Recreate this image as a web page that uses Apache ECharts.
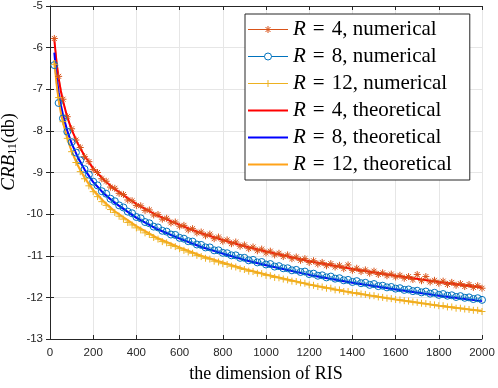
<!DOCTYPE html>
<html>
<head>
<meta charset="utf-8">
<script src="https://cdn.jsdelivr.net/npm/echarts@6/dist/echarts.min.js"></script>
<style>
  html, body { margin: 0; padding: 0; background: #fff; }
  #chart { width: 498px; height: 388px; }
</style>
</head>
<body>
<div id="chart"></div>
<script>
// dimension of RIS for the simulated points
var risN = [20,40,60,80,100,120,140,160,180,200,220,240,260,280,300,320,340,360,380,400,
  420,440,460,480,500,520,540,560,580,600,620,640,660,680,700,720,740,760,780,800,
  820,840,860,880,900,920,940,960,980,1000,1020,1040,1060,1080,1100,1120,1140,1160,1180,1200,
  1220,1240,1260,1280,1300,1320,1340,1360,1380,1400,1420,1440,1460,1480,1500,1520,1540,1560,1580,1600,
  1620,1640,1660,1680,1700,1720,1740,1760,1780,1800,1820,1840,1860,1880,1900,1920,1940,1960,1980,2000];

var numR4 = [-5.78,-6.69,-7.24,-7.66,-7.95,-8.22,-8.40,-8.62,-8.74,-8.93,
  -9.00,-9.15,-9.21,-9.35,-9.38,-9.50,-9.53,-9.66,-9.68,-9.79,
  -9.80,-9.91,-9.90,-10.02,-10.01,-10.12,-10.10,-10.21,-10.19,-10.29,
  -10.27,-10.38,-10.35,-10.45,-10.43,-10.52,-10.48,-10.59,-10.55,-10.65,
  -10.62,-10.71,-10.67,-10.77,-10.74,-10.83,-10.79,-10.88,-10.84,-10.93,
  -10.89,-10.98,-10.94,-11.02,-10.98,-11.07,-11.03,-11.11,-11.07,-11.16,
  -11.12,-11.20,-11.16,-11.24,-11.19,-11.27,-11.23,-11.31,-11.22,-11.35,
  -11.30,-11.38,-11.34,-11.42,-11.37,-11.45,-11.41,-11.48,-11.44,-11.51,
  -11.47,-11.54,-11.50,-11.57,-11.45,-11.60,-11.50,-11.63,-11.59,-11.66,
  -11.61,-11.69,-11.64,-11.71,-11.67,-11.74,-11.69,-11.76,-11.72,-11.78];

var numR8 = [-6.42,-7.33,-7.70,-8.02,-8.27,-8.52,-8.71,-8.92,-9.05,-9.22,
  -9.31,-9.45,-9.51,-9.63,-9.69,-9.79,-9.84,-9.94,-9.98,-10.07,
  -10.10,-10.19,-10.22,-10.30,-10.32,-10.40,-10.42,-10.49,-10.50,-10.57,
  -10.59,-10.65,-10.66,-10.73,-10.74,-10.80,-10.80,-10.87,-10.87,-10.93,
  -10.94,-10.99,-10.99,-11.05,-11.05,-11.11,-11.10,-11.16,-11.15,-11.21,
  -11.20,-11.26,-11.25,-11.30,-11.30,-11.35,-11.34,-11.39,-11.38,-11.44,
  -11.43,-11.48,-11.47,-11.52,-11.50,-11.55,-11.54,-11.59,-11.58,-11.63,
  -11.61,-11.66,-11.65,-11.70,-11.68,-11.73,-11.72,-11.76,-11.75,-11.79,
  -11.78,-11.82,-11.81,-11.85,-11.84,-11.88,-11.86,-11.91,-11.89,-11.94,
  -11.92,-11.96,-11.95,-11.99,-11.97,-12.01,-12.00,-12.04,-12.02,-12.06];

var numR12 = [-6.40,-7.20,-7.78,-8.18,-8.50,-8.76,-8.98,-9.15,-9.32,-9.46,
  -9.58,-9.70,-9.79,-9.89,-9.96,-10.05,-10.12,-10.20,-10.26,-10.33,
  -10.38,-10.45,-10.49,-10.56,-10.60,-10.66,-10.69,-10.75,-10.78,-10.83,
  -10.87,-10.91,-10.94,-10.99,-11.02,-11.06,-11.08,-11.13,-11.15,-11.19,
  -11.21,-11.25,-11.27,-11.31,-11.33,-11.37,-11.38,-11.42,-11.43,-11.47,
  -11.48,-11.52,-11.53,-11.56,-11.58,-11.61,-11.62,-11.65,-11.66,-11.70,
  -11.71,-11.74,-11.75,-11.78,-11.78,-11.82,-11.82,-11.86,-11.86,-11.89,
  -11.89,-11.92,-11.93,-11.96,-11.96,-11.99,-12.00,-12.02,-12.03,-12.05,
  -12.06,-12.08,-12.09,-12.11,-12.12,-12.14,-12.15,-12.17,-12.18,-12.20,
  -12.20,-12.23,-12.23,-12.26,-12.26,-12.28,-12.29,-12.31,-12.31,-12.34];

// theoretical curves
var thN = [20,30,40,50,60,80,100,130,160,200,250,300,400,500,600,700,800,900,1000,1200,1400,1600,1800,2000];
var thR4 = [-5.81,-6.35,-6.74,-7.04,-7.28,-7.67,-7.97,-8.32,-8.60,-8.90,-9.18,-9.40,-9.76,-10.04,-10.26,-10.46,-10.62,-10.77,-10.90,-11.13,-11.32,-11.48,-11.63,-11.76];
var thR8 = [-6.12,-6.68,-7.07,-7.37,-7.61,-8.00,-8.30,-8.65,-8.93,-9.23,-9.51,-9.73,-10.09,-10.37,-10.59,-10.79,-10.95,-11.10,-11.23,-11.46,-11.65,-11.81,-11.96,-12.09];
var thR12 = [-6.30,-6.86,-7.26,-7.56,-7.80,-8.19,-8.49,-8.84,-9.12,-9.42,-9.70,-9.93,-10.29,-10.58,-10.80,-11.00,-11.16,-11.32,-11.45,-11.69,-11.89,-12.05,-12.20,-12.33];

var seriesNames = ['R = 4, numerical', 'R = 8, numerical', 'R = 12, numerical',
  'R = 4, theoretical', 'R = 8, theoretical', 'R = 12, theoretical'];

var colors = ['#D95319', '#0072BD', '#EDB120', '#FF0000', '#0000FF', '#FFA31A'];

function zip(xs, ys) {
  return xs.map(function (x, i) { return [x, ys[i]]; });
}

var axisColor = '#262626';
var serif = 'Liberation Serif';

var starPath = 'path://M0,-10L0,10M-10,0L10,0M-7.07,-7.07L7.07,7.07M-7.07,7.07L7.07,-7.07';
var plusPath = 'path://M0,-10L0,10M-10,0L10,0';

// legend icons: a 40x8 box, line across with the marker in the middle
var legendIcons = [
  'path://M-20,0L20,0M0,-3.5L0,3.5M-3.5,0L3.5,0M-2.5,-2.5L2.5,2.5M-2.5,2.5L2.5,-2.5M-20,-4L-20,-4M20,4L20,4',
  'path://M-20,0L-3.5,0M3.5,0L20,0M3.5,0A3.5,3.5 0 1 1 -3.5,0A3.5,3.5 0 1 1 3.5,0M-20,-4L-20,-4M20,4L20,4',
  'path://M-20,0L20,0M0,-3.5L0,3.5M-20,-4L-20,-4M20,4L20,4',
  'path://M-20,0L20,0M-20,-4L-20,-4M20,4L20,4',
  'path://M-20,0L20,0M-20,-4L-20,-4M20,4L20,4',
  'path://M-20,0L20,0M-20,-4L-20,-4M20,4L20,4'
];

function numSeries(name, data, color, symbol, size) {
  return {
    name: name,
    type: 'line',
    data: zip(risN, data),
    symbol: symbol,
    symbolSize: size,
    showSymbol: true,
    showAllSymbol: true,
    lineStyle: { color: color, width: 0.6 },
    itemStyle: { color: 'rgba(0,0,0,0)', borderColor: color, borderWidth: 1 },
    emphasis: { disabled: true }
  };
}

function thSeries(name, data, color) {
  return {
    name: name,
    type: 'line',
    data: zip(thN, data),
    symbol: 'none',
    showSymbol: false,
    lineStyle: { color: color, width: 2 },
    itemStyle: { color: color },
    emphasis: { disabled: true }
  };
}

var legendData = seriesNames.map(function (name, i) {
  return {
    name: name,
    icon: legendIcons[i],
    itemStyle: { color: 'rgba(0,0,0,0)', borderColor: colors[i], borderWidth: i < 3 ? 1 : 2 }
  };
});

var chart = echarts.init(document.getElementById('chart'));
chart.setOption({
  animation: false,
  backgroundColor: '#fff',
  grid: { left: 50, right: 16, top: 4, bottom: 43 },
  xAxis: [{
    type: 'value', min: 0, max: 2000, interval: 200,
    name: 'the dimension of RIS', nameLocation: 'middle', nameGap: 26,
    nameTextStyle: { fontFamily: serif, fontSize: 18, color: '#000' },
    axisLine: { lineStyle: { color: axisColor, width: 1 } },
    axisTick: { inside: true, length: 4, lineStyle: { color: axisColor } },
    axisLabel: {
      margin: 8, fontFamily: 'Liberation Sans', fontSize: 11.5, color: axisColor,
      formatter: function (v) { return String(v); }
    },
    splitLine: { show: true, lineStyle: { color: '#e6e6e6', width: 1 } }
  }, {
    type: 'value', min: 0, max: 2000, interval: 200, position: 'top',
    axisLine: { show: true, lineStyle: { color: axisColor, width: 1 } },
    axisTick: { inside: true, length: 4, lineStyle: { color: axisColor } },
    axisLabel: { show: false },
    splitLine: { show: false }
  }],
  yAxis: [{
    type: 'value', min: -13, max: -5, interval: 1,
    axisLine: { show: true, lineStyle: { color: axisColor, width: 1 } },
    axisTick: { show: true, inside: true, length: 4, lineStyle: { color: axisColor } },
    axisLabel: { margin: 7, fontFamily: 'Liberation Sans', fontSize: 11.5, color: axisColor },
    splitLine: { show: true, lineStyle: { color: '#e6e6e6', width: 1 } }
  }, {
    type: 'value', min: -13, max: -5, interval: 1, position: 'right',
    axisLine: { show: true, lineStyle: { color: axisColor, width: 1 } },
    axisTick: { show: true, inside: true, length: 4, lineStyle: { color: axisColor } },
    axisLabel: { show: false },
    splitLine: { show: false }
  }],
  legend: {
    orient: 'vertical',
    left: 245, top: 14,
    padding: [5, 18, 5, 2],
    itemWidth: 40, itemHeight: 8, itemGap: 6,
    backgroundColor: '#fff',
    borderColor: axisColor, borderWidth: 1, borderRadius: 0,
    data: legendData,
    formatter: function (name) {
      return '{i|R}' + name.slice(1).replace(' = ', '\u2004=\u2004');
    },
    textStyle: {
      fontFamily: serif, fontSize: 21, color: '#000', lineHeight: 20,
      rich: { i: { fontFamily: serif, fontStyle: 'italic', fontSize: 21, lineHeight: 20 } }
    }
  },
  graphic: [{
    type: 'text',
    x: 9, y: 152,
    rotation: Math.PI / 2,
    style: {
      text: '{i|CRB}{s|11}{r|(db)}',
      align: 'center', verticalAlign: 'middle',
      fill: '#000',
      font: '18px "Liberation Serif"',
      rich: {
        i: { fontFamily: serif, fontStyle: 'italic', fontSize: 19, fill: '#000' },
        s: { fontFamily: serif, fontSize: 12, fill: '#000', padding: [8, 0, 0, 0] },
        r: { fontFamily: serif, fontSize: 18, fill: '#000' }
      }
    }
  }],
  series: [
    numSeries(seriesNames[0], numR4, colors[0], starPath, 7),
    numSeries(seriesNames[1], numR8, colors[1], 'circle', 7),
    numSeries(seriesNames[2], numR12, colors[2], plusPath, 7),
    thSeries(seriesNames[3], thR4, colors[3]),
    thSeries(seriesNames[4], thR8, colors[4]),
    thSeries(seriesNames[5], thR12, colors[5])
  ]
});
</script>
</body>
</html>
